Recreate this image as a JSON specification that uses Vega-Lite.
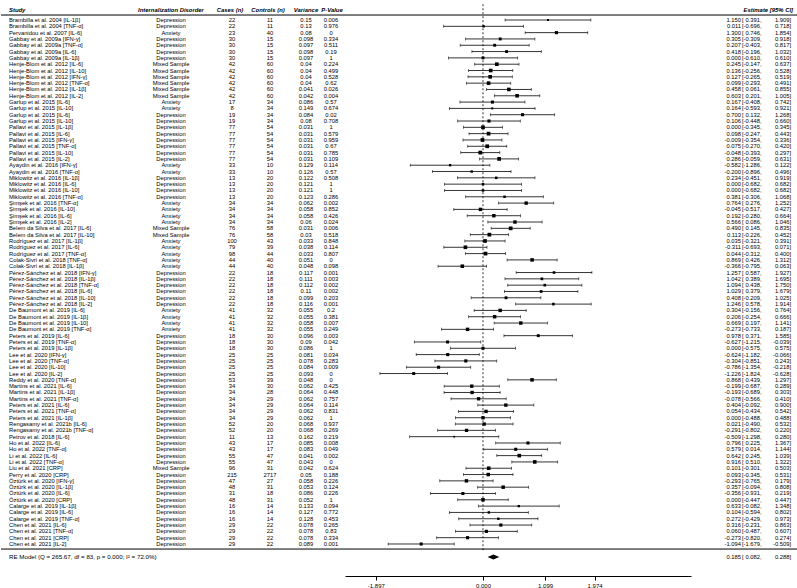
{
  "$schema": "https://vega.github.io/schema/vega-lite/v6.json",
  "padding": 0,
  "spacing": 0,
  "bounds": "flush",
  "background": "white",
  "config": {
    "locale": {"number": {"decimal": ".", "thousands": ",", "grouping": [3], "currency": ["$", ""], "minus": "-"}},
    "view": {"stroke": null},
    "text": {"font": "Liberation Sans", "fontSize": 5.8, "color": "black"},
    "axis": {"labelFont": "Liberation Sans", "labelFontSize": 6, "labelColor": "black", "domainColor": "black", "tickColor": "black", "grid": false}
  },
  "datasets": {
    "studies": [
      {"id":1,"study":"Brambilla et al. 2004 [IL-1β]","disorder":"Depression","cases":22,"controls":11,"variance":0.15,"p":0.006,"est":1.150,"lo":0.391,"hi":1.909},
      {"id":2,"study":"Brambilla et al. 2004 [TNF-α]","disorder":"Depression","cases":22,"controls":11,"variance":0.13,"p":0.976,"est":0.011,"lo":-0.696,"hi":0.718},
      {"id":3,"study":"Pervanidou et al. 2007 [IL-6]","disorder":"Anxiety","cases":23,"controls":40,"variance":0.08,"p":0,"est":1.300,"lo":0.746,"hi":1.854},
      {"id":4,"study":"Gabbay et al. 2009a [IFN-γ]","disorder":"Depression","cases":30,"controls":15,"variance":0.098,"p":0.334,"est":0.305,"lo":-0.309,"hi":0.918},
      {"id":5,"study":"Gabbay et al. 2009a [TNF-α]","disorder":"Depression","cases":30,"controls":15,"variance":0.097,"p":0.511,"est":0.207,"lo":-0.403,"hi":0.817},
      {"id":6,"study":"Gabbay et al. 2009a [IL-6]","disorder":"Depression","cases":30,"controls":15,"variance":0.098,"p":0.19,"est":0.418,"lo":-0.196,"hi":1.032},
      {"id":7,"study":"Gabbay et al. 2009a [IL-1β]","disorder":"Depression","cases":30,"controls":15,"variance":0.097,"p":1,"est":0.000,"lo":-0.610,"hi":0.610},
      {"id":8,"study":"Henje-Blom et al. 2012 [IL-6]","disorder":"Mixed Sample","cases":42,"controls":60,"variance":0.04,"p":0.224,"est":0.245,"lo":-0.147,"hi":0.637},
      {"id":9,"study":"Henje-Blom et al. 2012 [IL-10]","disorder":"Mixed Sample","cases":42,"controls":60,"variance":0.04,"p":0.499,"est":0.136,"lo":-0.256,"hi":0.528},
      {"id":10,"study":"Henje-Blom et al. 2012 [IFN-γ]","disorder":"Mixed Sample","cases":42,"controls":60,"variance":0.04,"p":0.528,"est":0.127,"lo":-0.265,"hi":0.519},
      {"id":11,"study":"Henje-Blom et al. 2012 [TNF-α]","disorder":"Mixed Sample","cases":42,"controls":60,"variance":0.04,"p":0.62,"est":0.099,"lo":-0.293,"hi":0.491},
      {"id":12,"study":"Henje-Blom et al. 2012 [IL-1β]","disorder":"Mixed Sample","cases":42,"controls":60,"variance":0.041,"p":0.026,"est":0.458,"lo":0.061,"hi":0.855},
      {"id":13,"study":"Henje-Blom et al. 2012 [IL-2]","disorder":"Mixed Sample","cases":42,"controls":60,"variance":0.042,"p":0.004,"est":0.603,"lo":0.201,"hi":1.005},
      {"id":14,"study":"Garlup et al. 2015 [IL-6]","disorder":"Anxiety","cases":17,"controls":34,"variance":0.086,"p":0.57,"est":0.167,"lo":-0.408,"hi":0.742},
      {"id":15,"study":"Garlup et al. 2015 [IL-10]","disorder":"Anxiety","cases":8,"controls":34,"variance":0.149,"p":0.674,"est":0.164,"lo":-0.593,"hi":0.921},
      {"id":16,"study":"Garlup et al. 2015 [IL-6]","disorder":"Depression","cases":19,"controls":34,"variance":0.084,"p":0.02,"est":0.700,"lo":0.132,"hi":1.268},
      {"id":17,"study":"Garlup et al. 2015 [IL-10]","disorder":"Depression","cases":19,"controls":34,"variance":0.08,"p":0.708,"est":0.106,"lo":-0.448,"hi":0.660},
      {"id":18,"study":"Pallavi et al. 2015 [IL-1β]","disorder":"Depression","cases":77,"controls":54,"variance":0.031,"p":1,"est":0.000,"lo":-0.345,"hi":0.345},
      {"id":19,"study":"Pallavi et al. 2015 [IL-6]","disorder":"Depression","cases":77,"controls":54,"variance":0.031,"p":0.579,"est":0.098,"lo":-0.247,"hi":0.443},
      {"id":20,"study":"Pallavi et al. 2015 [IFN-γ]","disorder":"Depression","cases":77,"controls":54,"variance":0.031,"p":0.959,"est":-0.009,"lo":-0.354,"hi":0.336},
      {"id":21,"study":"Pallavi et al. 2015 [TNF-α]","disorder":"Depression","cases":77,"controls":54,"variance":0.031,"p":0.67,"est":0.075,"lo":-0.270,"hi":0.420},
      {"id":22,"study":"Pallavi et al. 2015 [IL-10]","disorder":"Depression","cases":77,"controls":54,"variance":0.031,"p":0.785,"est":-0.048,"lo":-0.393,"hi":0.297},
      {"id":23,"study":"Pallavi et al. 2015 [IL-2]","disorder":"Depression","cases":77,"controls":54,"variance":0.031,"p":0.109,"est":0.286,"lo":-0.059,"hi":0.631},
      {"id":24,"study":"Ayaydin et al. 2016 [IFN-γ]","disorder":"Anxiety","cases":33,"controls":10,"variance":0.129,"p":0.114,"est":-0.582,"lo":-1.286,"hi":0.122},
      {"id":25,"study":"Ayaydin et al. 2016 [TNF-α]","disorder":"Anxiety","cases":33,"controls":10,"variance":0.126,"p":0.57,"est":-0.200,"lo":-0.896,"hi":0.496},
      {"id":26,"study":"Miklowitz et al. 2016 [IL-1β]","disorder":"Depression","cases":13,"controls":20,"variance":0.122,"p":0.508,"est":0.234,"lo":-0.451,"hi":0.919},
      {"id":27,"study":"Miklowitz et al. 2016 [IL-6]","disorder":"Depression","cases":13,"controls":20,"variance":0.121,"p":1,"est":0.000,"lo":-0.682,"hi":0.682},
      {"id":28,"study":"Miklowitz et al. 2016 [IL-10]","disorder":"Depression","cases":13,"controls":20,"variance":0.121,"p":1,"est":0.000,"lo":-0.682,"hi":0.682},
      {"id":29,"study":"Miklowitz et al. 2016 [TNF-α]","disorder":"Depression","cases":13,"controls":20,"variance":0.123,"p":0.286,"est":0.381,"lo":-0.306,"hi":1.068},
      {"id":30,"study":"Şimşek et al. 2016 [TNF-α]","disorder":"Anxiety","cases":34,"controls":34,"variance":0.062,"p":0.002,"est":0.764,"lo":0.276,"hi":1.252},
      {"id":31,"study":"Şimşek et al. 2016 [IL-10]","disorder":"Anxiety","cases":34,"controls":34,"variance":0.058,"p":0.852,"est":-0.045,"lo":-0.517,"hi":0.427},
      {"id":32,"study":"Şimşek et al. 2016 [IL-6]","disorder":"Anxiety","cases":34,"controls":34,"variance":0.058,"p":0.426,"est":0.192,"lo":-0.280,"hi":0.664},
      {"id":33,"study":"Şimşek et al. 2016 [IL-2]","disorder":"Anxiety","cases":34,"controls":34,"variance":0.06,"p":0.024,"est":0.566,"lo":0.086,"hi":1.046},
      {"id":34,"study":"Belem da Silva et al. 2017 [IL-6]","disorder":"Mixed Sample","cases":76,"controls":58,"variance":0.031,"p":0.006,"est":0.490,"lo":0.145,"hi":0.835},
      {"id":35,"study":"Belem da Silva et al. 2017 [IL-10]","disorder":"Mixed Sample","cases":76,"controls":58,"variance":0.03,"p":0.518,"est":0.113,"lo":-0.226,"hi":0.452},
      {"id":36,"study":"Rodríguez et al. 2017 [IL-1β]","disorder":"Anxiety","cases":100,"controls":43,"variance":0.033,"p":0.848,"est":0.035,"lo":-0.321,"hi":0.391},
      {"id":37,"study":"Rodríguez et al. 2017 [IL-6]","disorder":"Anxiety","cases":79,"controls":39,"variance":0.038,"p":0.114,"est":-0.311,"lo":-0.693,"hi":0.071},
      {"id":38,"study":"Rodríguez et al. 2017 [TNF-α]","disorder":"Anxiety","cases":98,"controls":44,"variance":0.033,"p":0.807,"est":0.044,"lo":-0.312,"hi":0.400},
      {"id":39,"study":"Colak-Sivri et al. 2018 [TNF-α]","disorder":"Anxiety","cases":44,"controls":40,"variance":0.051,"p":0,"est":0.869,"lo":0.426,"hi":1.312},
      {"id":40,"study":"Colak-Sivri et al. 2018 [IL-1β]","disorder":"Anxiety","cases":44,"controls":40,"variance":0.048,"p":0.098,"est":-0.366,"lo":-0.795,"hi":0.063},
      {"id":41,"study":"Pérez-Sánchez et al. 2018 [IFN-γ]","disorder":"Depression","cases":22,"controls":18,"variance":0.117,"p":0.001,"est":1.257,"lo":0.587,"hi":1.927},
      {"id":42,"study":"Pérez-Sánchez et al. 2018 [IL-1β]","disorder":"Depression","cases":22,"controls":18,"variance":0.111,"p":0.003,"est":1.042,"lo":0.389,"hi":1.695},
      {"id":43,"study":"Pérez-Sánchez et al. 2018 [TNF-α]","disorder":"Depression","cases":22,"controls":18,"variance":0.112,"p":0.002,"est":1.094,"lo":0.438,"hi":1.750},
      {"id":44,"study":"Pérez-Sánchez et al. 2018 [IL-6]","disorder":"Depression","cases":22,"controls":18,"variance":0.11,"p":0.002,"est":1.029,"lo":0.379,"hi":1.679},
      {"id":45,"study":"Pérez-Sánchez et al. 2018 [IL-10]","disorder":"Depression","cases":22,"controls":18,"variance":0.099,"p":0.203,"est":0.408,"lo":-0.209,"hi":1.025},
      {"id":46,"study":"Pérez-Sánchez et al. 2018 [IL-2]","disorder":"Depression","cases":22,"controls":18,"variance":0.116,"p":0.001,"est":1.246,"lo":0.578,"hi":1.914},
      {"id":47,"study":"De Baumont et al. 2019 [IL-6]","disorder":"Anxiety","cases":41,"controls":32,"variance":0.055,"p":0.2,"est":0.304,"lo":-0.156,"hi":0.764},
      {"id":48,"study":"De Baumont et al. 2019 [IL-1β]","disorder":"Anxiety","cases":41,"controls":32,"variance":0.055,"p":0.381,"est":0.206,"lo":-0.254,"hi":0.666},
      {"id":49,"study":"De Baumont et al. 2019 [IL-10]","disorder":"Anxiety","cases":41,"controls":32,"variance":0.058,"p":0.007,"est":0.669,"lo":0.197,"hi":1.141},
      {"id":50,"study":"De Baumont et al. 2019 [TNF-α]","disorder":"Anxiety","cases":41,"controls":32,"variance":0.055,"p":0.249,"est":-0.273,"lo":-0.733,"hi":0.187},
      {"id":51,"study":"Peters et al. 2019 [IL-6]","disorder":"Depression","cases":18,"controls":30,"variance":0.096,"p":0.003,"est":0.978,"lo":0.371,"hi":1.585},
      {"id":52,"study":"Peters et al. 2019 [TNF-α]","disorder":"Depression","cases":18,"controls":30,"variance":0.09,"p":0.042,"est":-0.627,"lo":-1.215,"hi":-0.039},
      {"id":53,"study":"Peters et al. 2019 [IL-1β]","disorder":"Depression","cases":18,"controls":30,"variance":0.086,"p":1,"est":0.000,"lo":-0.575,"hi":0.575},
      {"id":54,"study":"Lee et al. 2020 [IFN-γ]","disorder":"Depression","cases":25,"controls":25,"variance":0.081,"p":0.034,"est":-0.624,"lo":-1.182,"hi":-0.066},
      {"id":55,"study":"Lee et al. 2020 [TNF-α]","disorder":"Depression","cases":25,"controls":25,"variance":0.078,"p":0.283,"est":-0.304,"lo":-0.851,"hi":0.243},
      {"id":56,"study":"Lee et al. 2020 [IL-10]","disorder":"Depression","cases":25,"controls":25,"variance":0.084,"p":0.009,"est":-0.786,"lo":-1.354,"hi":-0.218},
      {"id":57,"study":"Lee et al. 2020 [IL-2]","disorder":"Depression","cases":25,"controls":25,"variance":0.093,"p":0,"est":-1.226,"lo":-1.824,"hi":-0.628},
      {"id":58,"study":"Reddy et al. 2020 [TNF-α]","disorder":"Depression","cases":53,"controls":39,"variance":0.048,"p":0,"est":0.868,"lo":0.439,"hi":1.297},
      {"id":59,"study":"Martins et al. 2021 [IL-6]","disorder":"Depression","cases":34,"controls":30,"variance":0.062,"p":0.425,"est":-0.199,"lo":-0.687,"hi":0.289},
      {"id":60,"study":"Martins et al. 2021 [IL-1β]","disorder":"Depression","cases":34,"controls":28,"variance":0.064,"p":0.448,"est":-0.193,"lo":-0.689,"hi":0.303},
      {"id":61,"study":"Martins et al. 2021 [TNF-α]","disorder":"Depression","cases":34,"controls":29,"variance":0.062,"p":0.757,"est":-0.078,"lo":-0.566,"hi":0.410},
      {"id":62,"study":"Peters et al. 2021 [IL-6]","disorder":"Depression","cases":34,"controls":29,"variance":0.064,"p":0.114,"est":0.404,"lo":-0.092,"hi":0.900},
      {"id":63,"study":"Peters et al. 2021 [TNF-α]","disorder":"Depression","cases":34,"controls":29,"variance":0.062,"p":0.831,"est":0.054,"lo":-0.434,"hi":0.542},
      {"id":64,"study":"Peters et al. 2021 [IL-1β]","disorder":"Depression","cases":34,"controls":29,"variance":0.062,"p":1,"est":0.000,"lo":-0.488,"hi":0.488},
      {"id":65,"study":"Rengasamy et al. 2021b [IL-6]","disorder":"Depression","cases":52,"controls":20,"variance":0.068,"p":0.937,"est":0.021,"lo":-0.490,"hi":0.532},
      {"id":66,"study":"Rengasamy et al. 2021b [TNF-α]","disorder":"Depression","cases":52,"controls":20,"variance":0.068,"p":0.269,"est":-0.291,"lo":-0.802,"hi":0.220},
      {"id":67,"study":"Petrov et al. 2018 [IL-6]","disorder":"Depression","cases":11,"controls":13,"variance":0.162,"p":0.219,"est":-0.509,"lo":-1.298,"hi":0.280},
      {"id":68,"study":"Ho et al. 2022 [IL-6]","disorder":"Depression","cases":43,"controls":17,"variance":0.085,"p":0.008,"est":0.796,"lo":0.225,"hi":1.367},
      {"id":69,"study":"Ho et al. 2022 [TNF-α]","disorder":"Depression","cases":43,"controls":17,"variance":0.083,"p":0.049,"est":0.579,"lo":0.014,"hi":1.144},
      {"id":70,"study":"Li et al. 2022 [IL-6]","disorder":"Depression","cases":55,"controls":47,"variance":0.041,"p":0.002,"est":0.642,"lo":0.245,"hi":1.039},
      {"id":71,"study":"Li et al. 2022 [TNF-α]","disorder":"Depression","cases":55,"controls":47,"variance":0.043,"p":0,"est":0.916,"lo":0.510,"hi":1.322},
      {"id":72,"study":"Liu et al. 2021 [CRP]","disorder":"Mixed Sample","cases":96,"controls":31,"variance":0.042,"p":0.624,"est":0.101,"lo":-0.301,"hi":0.503},
      {"id":73,"study":"Perry et al. 2020 [CRP]","disorder":"Depression","cases":215,"controls":2717,"variance":0.05,"p":0.188,"est":0.093,"lo":-0.345,"hi":0.531},
      {"id":74,"study":"Öztürk et al. 2020 [IFN-γ]","disorder":"Depression","cases":47,"controls":27,"variance":0.058,"p":0.226,"est":-0.293,"lo":-0.765,"hi":0.179},
      {"id":75,"study":"Öztürk et al. 2020 [IL-1β]","disorder":"Depression","cases":48,"controls":31,"variance":0.053,"p":0.124,"est":0.357,"lo":-0.094,"hi":0.808},
      {"id":76,"study":"Öztürk et al. 2020 [IL-6]","disorder":"Depression","cases":31,"controls":18,"variance":0.086,"p":0.226,"est":-0.356,"lo":-0.931,"hi":0.219},
      {"id":77,"study":"Öztürk et al. 2020 [CRP]","disorder":"Depression","cases":48,"controls":31,"variance":0.052,"p":1,"est":0.000,"lo":-0.447,"hi":0.447},
      {"id":78,"study":"Calarge et al. 2019 [IL-1β]","disorder":"Depression","cases":16,"controls":14,"variance":0.133,"p":0.094,"est":0.633,"lo":-0.082,"hi":1.348},
      {"id":79,"study":"Calarge et al. 2019 [IL-6]","disorder":"Depression","cases":16,"controls":14,"variance":0.127,"p":0.772,"est":0.104,"lo":-0.594,"hi":0.802},
      {"id":80,"study":"Calarge et al. 2019 [TNF-α]","disorder":"Depression","cases":16,"controls":14,"variance":0.128,"p":0.453,"est":0.272,"lo":-0.429,"hi":0.973},
      {"id":81,"study":"Chen et al. 2021 [IL-6]","disorder":"Depression","cases":29,"controls":22,"variance":0.078,"p":0.265,"est":0.316,"lo":-0.231,"hi":0.863},
      {"id":82,"study":"Chen et al. 2021 [TNF-α]","disorder":"Depression","cases":29,"controls":22,"variance":0.078,"p":0.83,"est":0.060,"lo":-0.487,"hi":0.607},
      {"id":83,"study":"Chen et al. 2021 [CRP]","disorder":"Depression","cases":29,"controls":22,"variance":0.078,"p":0.334,"est":-0.273,"lo":-0.820,"hi":0.274},
      {"id":84,"study":"Chen et al. 2021 [IL-2]","disorder":"Depression","cases":29,"controls":22,"variance":0.089,"p":0.001,"est":-1.094,"lo":-1.679,"hi":-0.509}
    ],
    "pooled": [
      {"label":"RE Model (Q = 265.67, df = 83, p = 0.000; I² = 72.0%)","est":0.185,"lo":0.082,"hi":0.288,"id":86.06}
    ],
    "allrows": []
  },
  "hconcat": [
    {
      "width": 122, "height": 576,
      "layer": [
        {"data": {"values": [{}]}, "mark": {"type": "text", "text": "Study", "align": "left", "fontWeight": "bold", "fontStyle": "italic", "fontSize": 5.9},
         "encoding": {"x": {"datum": 0, "type": "quantitative", "scale": {"domain": [-0.0702, 1], "nice": false, "zero": false}, "axis": null}, "y": {"datum": -0.58, "type": "quantitative", "scale": {"domain": [-2.17, 89.07], "reverse": true, "nice": false, "zero": false}, "axis": null}}},
        {"data": {"name": "studies"}, "mark": {"type": "text", "align": "left"},
         "encoding": {"x": {"datum": 0, "type": "quantitative"}, "y": {"field": "id", "type": "quantitative"}, "text": {"field": "study", "type": "nominal"}}},
        {"data": {"name": "pooled"}, "mark": {"type": "text", "align": "left", "fontSize": 6.2},
         "encoding": {"x": {"datum": 0, "type": "quantitative"}, "y": {"field": "id", "type": "quantitative"}, "text": {"field": "label", "type": "nominal"}}},
        {"data": {"values": [{"y": 0.21}, {"y": 84.8}]}, "mark": {"type": "rule", "strokeWidth": 1, "color": "black"},
         "encoding": {"y": {"field": "y", "type": "quantitative"}}}
      ]
    },
    {
      "width": 96, "height": 576,
      "layer": [
        {"data": {"values": [{}]}, "mark": {"type": "text", "text": "Internalization Disorder", "fontWeight": "bold", "fontStyle": "italic", "fontSize": 5.9},
         "encoding": {"y": {"datum": -0.58, "type": "quantitative", "scale": {"domain": [-2.17, 89.07], "reverse": true, "nice": false, "zero": false}, "axis": null}}},
        {"data": {"name": "studies"}, "mark": {"type": "text"},
         "encoding": {"y": {"field": "id", "type": "quantitative"}, "text": {"field": "disorder", "type": "nominal"}}},
        {"data": {"values": [{"y": 0.21}, {"y": 84.8}]}, "mark": {"type": "rule", "strokeWidth": 1, "color": "black"},
         "encoding": {"y": {"field": "y", "type": "quantitative"}}}
      ]
    },
    {
      "width": 26, "height": 576,
      "layer": [
        {"data": {"values": [{}]}, "mark": {"type": "text", "text": "Cases (n)", "fontWeight": "bold", "fontStyle": "italic", "fontSize": 5.9, "dx": -2},
         "encoding": {"y": {"datum": -0.58, "type": "quantitative", "scale": {"domain": [-2.17, 89.07], "reverse": true, "nice": false, "zero": false}, "axis": null}}},
        {"data": {"name": "studies"}, "mark": {"type": "text"},
         "encoding": {"y": {"field": "id", "type": "quantitative"}, "text": {"field": "cases", "type": "nominal"}}},
        {"data": {"values": [{"y": 0.21}, {"y": 84.8}]}, "mark": {"type": "rule", "strokeWidth": 1, "color": "black"},
         "encoding": {"y": {"field": "y", "type": "quantitative"}}}
      ]
    },
    {
      "width": 50, "height": 576,
      "layer": [
        {"data": {"values": [{}]}, "mark": {"type": "text", "text": "Controls (n)", "fontWeight": "bold", "fontStyle": "italic", "fontSize": 5.9, "dx": -2},
         "encoding": {"y": {"datum": -0.58, "type": "quantitative", "scale": {"domain": [-2.17, 89.07], "reverse": true, "nice": false, "zero": false}, "axis": null}}},
        {"data": {"name": "studies"}, "mark": {"type": "text"},
         "encoding": {"y": {"field": "id", "type": "quantitative"}, "text": {"field": "controls", "type": "nominal"}}},
        {"data": {"values": [{"y": 0.21}, {"y": 84.8}]}, "mark": {"type": "rule", "strokeWidth": 1, "color": "black"},
         "encoding": {"y": {"field": "y", "type": "quantitative"}}}
      ]
    },
    {
      "width": 22, "height": 576,
      "layer": [
        {"data": {"values": [{}]}, "mark": {"type": "text", "text": "Variance", "fontWeight": "bold", "fontStyle": "italic", "fontSize": 5.9},
         "encoding": {"y": {"datum": -0.58, "type": "quantitative", "scale": {"domain": [-2.17, 89.07], "reverse": true, "nice": false, "zero": false}, "axis": null}}},
        {"data": {"name": "studies"}, "mark": {"type": "text"},
         "encoding": {"y": {"field": "id", "type": "quantitative"}, "text": {"field": "variance", "type": "nominal"}}},
        {"data": {"values": [{"y": 0.21}, {"y": 84.8}]}, "mark": {"type": "rule", "strokeWidth": 1, "color": "black"},
         "encoding": {"y": {"field": "y", "type": "quantitative"}}}
      ]
    },
    {
      "width": 28, "height": 576,
      "layer": [
        {"data": {"values": [{}]}, "mark": {"type": "text", "text": "P-Value", "fontWeight": "bold", "fontStyle": "italic", "fontSize": 5.9, "dx": 1},
         "encoding": {"y": {"datum": -0.58, "type": "quantitative", "scale": {"domain": [-2.17, 89.07], "reverse": true, "nice": false, "zero": false}, "axis": null}}},
        {"data": {"name": "studies"}, "mark": {"type": "text"},
         "encoding": {"y": {"field": "id", "type": "quantitative"}, "text": {"field": "p", "type": "nominal"}}},
        {"data": {"values": [{"y": 0.21}, {"y": 84.8}]}, "mark": {"type": "rule", "strokeWidth": 1, "color": "black"},
         "encoding": {"y": {"field": "y", "type": "quantitative"}}}
      ]
    },
    {
      "width": 346, "height": 576,
      "layer": [
        {"data": {"values": [{"y": 0.21}, {"y": 84.8}]}, "mark": {"type": "rule", "strokeWidth": 1, "color": "black"},
         "encoding": {"y": {"field": "y", "type": "quantitative", "scale": {"domain": [-2.17, 89.07], "reverse": true, "nice": false, "zero": false}, "axis": null}}},
        {"data": {"values": [{"x": 0, "y1": -1.5, "y2": 85.3}]}, "mark": {"type": "rule", "strokeDash": [2, 2], "strokeWidth": 0.8, "color": "black"},
         "encoding": {"x": {"field": "x", "type": "quantitative", "scale": {"domain": [-2.442, 3.681], "nice": false, "zero": false},
                            "axis": {"values": [-1.897, 0, 1.099, 1.974], "format": ".3f", "title": null, "tickSize": 4, "labelPadding": 2, "domainWidth": 1}},
                      "y": {"field": "y1", "type": "quantitative"}, "y2": {"field": "y2"}}},
        {"data": {"name": "studies"}, "mark": {"type": "rule", "strokeWidth": 0.8, "color": "black"},
         "encoding": {"x": {"field": "lo", "type": "quantitative"}, "x2": {"field": "hi"}, "y": {"field": "id", "type": "quantitative"}}},
        {"data": {"name": "studies"}, "mark": {"type": "tick", "orient": "vertical", "size": 3, "thickness": 0.8, "color": "black"},
         "encoding": {"x": {"field": "lo", "type": "quantitative"}, "y": {"field": "id", "type": "quantitative"}}},
        {"data": {"name": "studies"}, "mark": {"type": "tick", "orient": "vertical", "size": 3, "thickness": 0.8, "color": "black"},
         "encoding": {"x": {"field": "hi", "type": "quantitative"}, "y": {"field": "id", "type": "quantitative"}}},
        {"data": {"name": "studies"}, "mark": {"type": "point", "shape": "square", "filled": true, "color": "black", "opacity": 1},
         "encoding": {"x": {"field": "est", "type": "quantitative"}, "y": {"field": "id", "type": "quantitative"},
                      "size": {"field": "variance", "type": "quantitative", "scale": {"domain": [0.03, 0.162], "range": [14, 3]}, "legend": null}}},
        {"data": {"name": "pooled"}, "mark": {"type": "point", "shape": "M-1,0L0,-0.42L1,0L0,0.42Z", "filled": true, "color": "black", "opacity": 1, "size": 135},
         "encoding": {"x": {"field": "est", "type": "quantitative"}, "y": {"field": "id", "type": "quantitative"}}}
      ]
    },
    {
      "width": 107, "height": 576,
      "layer": [
        {"data": {"values": [{}]}, "mark": {"type": "text", "text": "Estimate [95% CI]", "align": "right", "fontWeight": "bold", "fontStyle": "italic", "fontSize": 5.9},
         "encoding": {"x": {"datum": 102, "type": "quantitative", "scale": {"domain": [0, 107], "nice": false, "zero": false}, "axis": null}, "y": {"datum": -0.58, "type": "quantitative", "scale": {"domain": [-2.17, 89.07], "reverse": true, "nice": false, "zero": false}, "axis": null}}},
        {"data": {"name": "studies"}, "mark": {"type": "text", "align": "right"},
         "encoding": {"x": {"datum": 50, "type": "quantitative"}, "y": {"field": "id", "type": "quantitative"}, "text": {"field": "est", "type": "quantitative", "format": ".3f"}}},
        {"data": {"name": "studies"}, "mark": {"type": "text", "align": "left", "text": "["},
         "encoding": {"x": {"datum": 51, "type": "quantitative"}, "y": {"field": "id", "type": "quantitative"}}},
        {"data": {"name": "studies"}, "mark": {"type": "text", "align": "right"},
         "encoding": {"x": {"datum": 69, "type": "quantitative"}, "y": {"field": "id", "type": "quantitative"}, "text": {"field": "lo", "type": "quantitative", "format": ".3f"}}},
        {"data": {"name": "studies"}, "mark": {"type": "text", "align": "left", "text": ","},
         "encoding": {"x": {"datum": 69, "type": "quantitative"}, "y": {"field": "id", "type": "quantitative"}}},
        {"data": {"name": "studies"}, "mark": {"type": "text", "align": "right"},
         "encoding": {"x": {"datum": 98.4, "type": "quantitative"}, "y": {"field": "id", "type": "quantitative"}, "text": {"field": "hi", "type": "quantitative", "format": ".3f"}}},
        {"data": {"name": "studies"}, "mark": {"type": "text", "align": "left", "text": "]"},
         "encoding": {"x": {"datum": 98.4, "type": "quantitative"}, "y": {"field": "id", "type": "quantitative"}}},
        {"data": {"name": "pooled"}, "mark": {"type": "text", "align": "right"},
         "encoding": {"x": {"datum": 50, "type": "quantitative"}, "y": {"field": "id", "type": "quantitative"}, "text": {"field": "est", "type": "quantitative", "format": ".3f"}}},
        {"data": {"name": "pooled"}, "mark": {"type": "text", "align": "left", "text": "["},
         "encoding": {"x": {"datum": 51, "type": "quantitative"}, "y": {"field": "id", "type": "quantitative"}}},
        {"data": {"name": "pooled"}, "mark": {"type": "text", "align": "right"},
         "encoding": {"x": {"datum": 69, "type": "quantitative"}, "y": {"field": "id", "type": "quantitative"}, "text": {"field": "lo", "type": "quantitative", "format": ".3f"}}},
        {"data": {"name": "pooled"}, "mark": {"type": "text", "align": "left", "text": ","},
         "encoding": {"x": {"datum": 69, "type": "quantitative"}, "y": {"field": "id", "type": "quantitative"}}},
        {"data": {"name": "pooled"}, "mark": {"type": "text", "align": "right"},
         "encoding": {"x": {"datum": 98.4, "type": "quantitative"}, "y": {"field": "id", "type": "quantitative"}, "text": {"field": "hi", "type": "quantitative", "format": ".3f"}}},
        {"data": {"name": "pooled"}, "mark": {"type": "text", "align": "left", "text": "]"},
         "encoding": {"x": {"datum": 98.4, "type": "quantitative"}, "y": {"field": "id", "type": "quantitative"}}},
        {"data": {"values": [{"y": 0.21}, {"y": 84.8}]}, "mark": {"type": "rule", "strokeWidth": 1, "color": "black"},
         "encoding": {"y": {"field": "y", "type": "quantitative"}}}
      ]
    }
  ]
}
